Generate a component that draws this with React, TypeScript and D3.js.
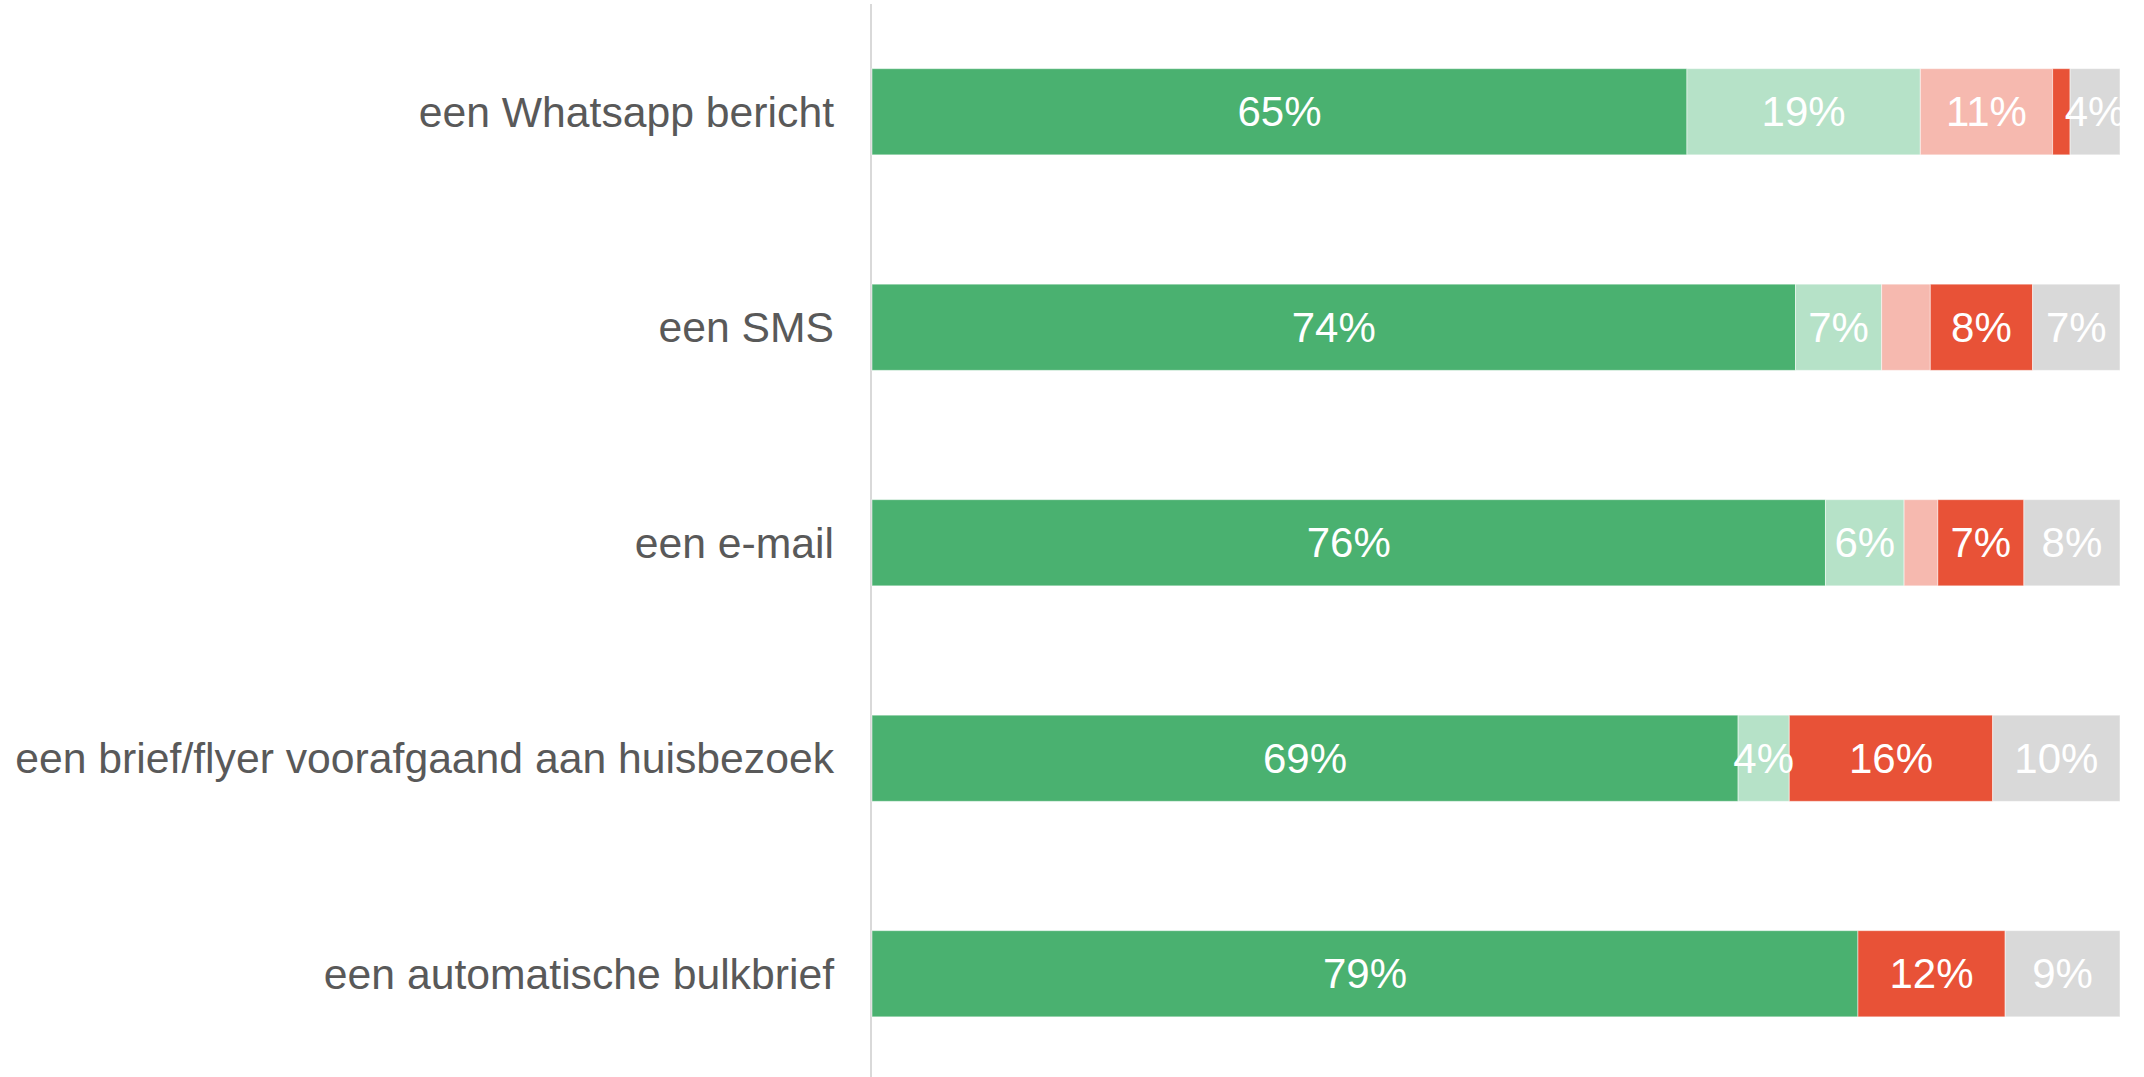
import React from "react";
import * as d3 from "d3";

const categories = [
  "een Whatsapp bericht",
  "een SMS",
  "een e-mail",
  "een brief/flyer voorafgaand aan huisbezoek",
  "een automatische bulkbrief",
];
const seriesKeys = ["s1", "s2", "s3", "s4", "s5"];
const s1 = [65.3, 74.0, 76.4, 69.4, 79.0];
const s2 = [18.7, 6.9, 6.3, 4.1, 0];
const s3 = [10.6, 3.9, 2.7, 0, 0];
const s4 = [1.4, 8.2, 6.9, 16.3, 11.8];
const s5 = [4.0, 7.0, 7.7, 10.2, 9.2];
const labelThreshold = 4;
const colors = ["#4ab170", "#b6e2c8", "#f6b9af", "#e85237", "#d9d9d9"];

const W = 2144;
const H = 1077;

export default function App() {
  const rows = categories.map((c, i) => ({
    cat: c,
    s1: s1[i],
    s2: s2[i],
    s3: s3[i],
    s4: s4[i],
    s5: s5[i],
  }));
  const stacked = d3.stack<any>().keys(seriesKeys)(rows);
  const x = d3.scaleLinear().domain([0, 100]).range([872, 2120]);
  const y = d3
    .scaleBand()
    .domain(categories)
    .range([4, 1081.5])
    .paddingInner(0.6)
    .paddingOuter(0.3);
  const font = "'Liberation Sans', Arial, sans-serif";
  return (
    <div style={{ position: "fixed", left: 0, top: 0, width: W, height: H, background: "#fff" }}>
      <svg width={W} height={H} style={{ display: "block" }}>
        <defs>
          <clipPath id="plotclip">
            <rect x={0} y={0} width={x(100)} height={H} />
          </clipPath>
        </defs>
        <line x1={871} x2={871} y1={4} y2={H} stroke="#d9d9d9" strokeWidth={2} />
        {categories.map((c) => (
          <text
            key={c}
            x={834}
            y={(y(c) as number) + y.bandwidth() / 2}
            dy="0.35em"
            textAnchor="end"
            fontFamily={font}
            fontSize={42.7}
            fill="#595959"
          >
            {c}
          </text>
        ))}
        {stacked.map((layer, li) => (
          <g key={layer.key} fill={colors[li]}>
            {layer.map((d, i) =>
              d[1] - d[0] > 0 ? (
                <rect
                  key={i}
                  x={x(d[0])}
                  y={y(categories[i]) as number}
                  width={x(d[1]) - x(d[0])}
                  height={y.bandwidth()}
                  stroke="#ffffff"
                  strokeOpacity={0.5}
                  strokeWidth={1}
                />
              ) : null
            )}
          </g>
        ))}
        <g clipPath="url(#plotclip)">
          {stacked.map((layer, li) =>
            layer.map((d, i) => {
              const v = d[1] - d[0];
              if (v < labelThreshold) return null;
              return (
                <text
                  key={`${li}-${i}`}
                  x={(x(d[0]) + x(d[1])) / 2}
                  y={(y(categories[i]) as number) + y.bandwidth() / 2}
                  dy="0.35em"
                  textAnchor="middle"
                  fontFamily={font}
                  fontSize={42}
                  fill="#ffffff"
                >
                  {`${Math.round(v)}%`}
                </text>
              );
            })
          )}
        </g>
      </svg>
    </div>
  );
}
